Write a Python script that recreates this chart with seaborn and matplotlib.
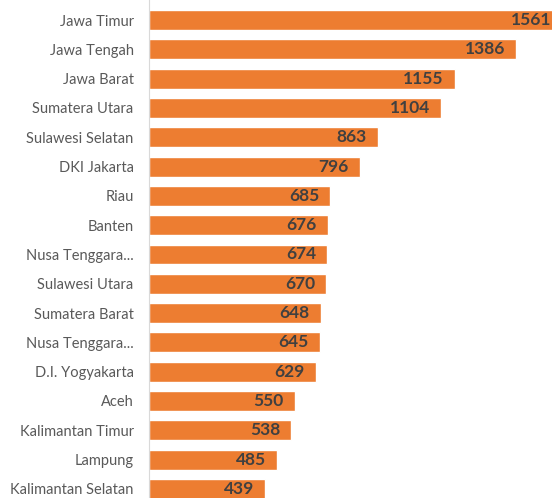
import matplotlib.pyplot as plt
import seaborn as sns
import pandas as pd

provinsi = ['Jawa Timur', 'Jawa Tengah', 'Jawa Barat', 'Sumatera Utara', 'Sulawesi Selatan',
            'DKI Jakarta', 'Riau', 'Banten', 'Nusa Tenggara...', 'Sulawesi Utara',
            'Sumatera Barat', 'Nusa Tenggara...', 'D.I. Yogyakarta', 'Aceh',
            'Kalimantan Timur', 'Lampung', 'Kalimantan Selatan']
jumlah = [1561, 1386, 1155, 1104, 863, 796, 685, 676, 674, 670, 648, 645, 629, 550, 538, 485, 439]

data = pd.DataFrame({'pos': range(len(provinsi)), 'jumlah': jumlah})

sns.set_style('white')
plt.rcParams['font.family'] = ['Lato', 'DejaVu Sans']

fig = plt.figure(figsize=(5.52, 4.98), dpi=100)
ax = fig.add_axes([149 / 552, 0, 1 - 149 / 552, 1])

sns.barplot(data=data, x='jumlah', y='pos', orient='h', color='#ED7D31',
            saturation=1, width=0.68, ax=ax)

for p, v in zip(ax.patches, jumlah):
    ax.annotate(str(v), (p.get_width(), p.get_y() + p.get_height() / 2),
                xytext=(-8, 0), textcoords='offset points', ha='right', va='center',
                fontsize=12.5, fontweight='bold', color='#404040', annotation_clip=False,
                clip_on=True)

ax.set_yticks(range(len(provinsi)))
ax.set_yticklabels(provinsi, fontsize=10.5, color='#595959')
ax.tick_params(axis='y', length=0, pad=11)
ax.set_xticks([])
ax.set_xlim(0, 1522)
ax.set_ylim(16.31, -0.683)
ax.set_xlabel('')
ax.set_ylabel('')
for s in ['top', 'right', 'bottom']:
    ax.spines[s].set_visible(False)
ax.spines['left'].set_color('#D9D9D9')
ax.spines['left'].set_linewidth(0.8)

fig.savefig('out.png', dpi=100)
